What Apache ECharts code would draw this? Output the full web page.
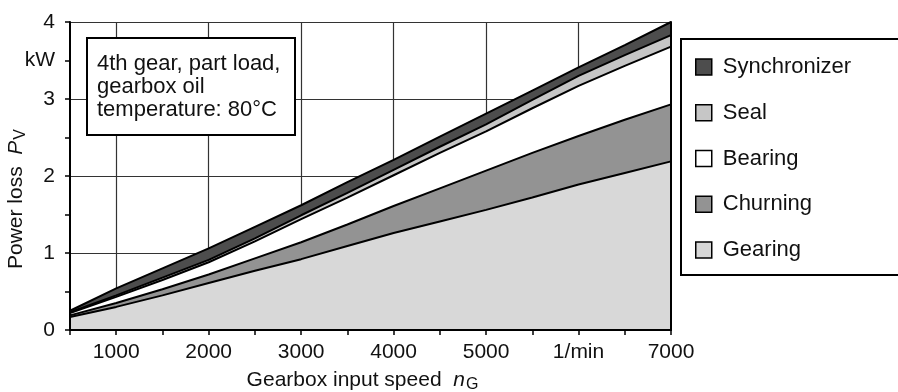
<!DOCTYPE html>
<html>
<head>
<meta charset="utf-8">
<script src="https://cdn.jsdelivr.net/npm/echarts@6/dist/echarts.min.js"></script>
<style>
  html, body { margin: 0; padding: 0; background: #fff; }
  #main { width: 898px; height: 392px; }
</style>
</head>
<body>
<div id="main"></div>
<script>
// gearbox input speed, 1/min
const speeds = [500, 1000, 1500, 2000, 2500, 3000, 3500, 4000, 4500, 5000, 5500, 6000, 6500, 7000]
// power loss parts in kW (stacked from bottom)
const gearing = [0.17, 0.30, 0.45, 0.61, 0.77, 0.92, 1.09, 1.26, 1.41, 1.56, 1.72, 1.89, 2.04, 2.19]
const churning = [0.02, 0.05, 0.08, 0.11, 0.16, 0.22, 0.28, 0.35, 0.43, 0.51, 0.58, 0.63, 0.69, 0.74]
const bearing = [0.03, 0.08, 0.12, 0.16, 0.22, 0.30, 0.35, 0.40, 0.46, 0.51, 0.58, 0.65, 0.70, 0.75]
const seal = [0.01, 0.02, 0.03, 0.03, 0.04, 0.05, 0.06, 0.07, 0.08, 0.09, 0.11, 0.13, 0.14, 0.15]
const synchronizer = [0.02, 0.09, 0.12, 0.15, 0.15, 0.13, 0.14, 0.13, 0.13, 0.14, 0.12, 0.11, 0.13, 0.17]

// tick labels
const xLabelValues = [1000, 2000, 3000, 4000, 5000, 6000, 7000]
const xLabelTexts = ['1000', '2000', '3000', '4000', '5000', '1/min', '7000']
const yLabelValues = [0, 1, 2, 3, 3.5, 4]
const yLabelTexts = ['0', '1', '2', '3', 'kW', '4']

const seriesNames = ['Gearing', 'Churning', 'Bearing', 'Seal', 'Synchronizer']
const seriesValues = [gearing, churning, bearing, seal, synchronizer]
const fills = ['#d8d8d8', '#939393', '#ffffff', '#c6c6c6', '#4d4d4d']

const FONT = 'Liberation Sans, Arial, sans-serif'

function pickLabel(values, texts, v) {
  v = Number(v)
  for (let i = 0; i < values.length; i++) {
    if (Math.abs(values[i] - v) < 1e-6) return texts[i]
  }
  return ''
}

const chart = echarts.init(document.getElementById('main'), null, { renderer: 'canvas' })

const series = seriesNames.map(function (name, k) {
  return {
    name: name,
    type: 'line',
    stack: 'total',
    xAxisIndex: 0,
    yAxisIndex: 0,
    symbol: 'none',
    itemStyle: { color: fills[k] },
    lineStyle: { color: '#000', width: 2 },
    areaStyle: { color: fills[k], opacity: 1 },
    data: seriesValues[k]
  }
})

const hidden = { show: false }
const xCats = speeds.map(String)

const option = {
  backgroundColor: '#fff',
  animation: false,
  textStyle: { fontFamily: FONT },
  grid: { left: 70, top: 22, width: 601, height: 308, containLabel: false, outerBoundsMode: 'none' },
  xAxis: [
    {
      // main bottom axis
      type: 'category', data: xCats, boundaryGap: false, z: 10,
      axisLine: { lineStyle: { color: '#000', width: 2 } },
      axisTick: { interval: 0, length: 5, lineStyle: { color: '#000', width: 1.5 } },
      axisLabel: {
        interval: 0,
        color: '#111', fontSize: 21, fontFamily: FONT, margin: 12,
        formatter: function (v) { return pickLabel(xLabelValues, xLabelTexts, v) }
      },
      splitLine: hidden,
      name: 'Gearbox input speed  {i|n}{s|G}',
      nameLocation: 'middle',
      nameGap: 38,
      nameMoveOverlap: false,
      nameTextStyle: {
        color: '#111', fontSize: 21, fontFamily: FONT, padding: [0, 16, 0, 0],
        rich: {
          i: { fontStyle: 'italic', fontSize: 21, fontFamily: FONT, color: '#111' },
          s: { fontSize: 16, fontFamily: FONT, color: '#111', padding: [9, 0, 0, 1] }
        }
      }
    },
    {
      // grid lines every 1000
      type: 'category', data: xCats, boundaryGap: false, z: 0,
      axisLine: hidden, axisTick: hidden, axisLabel: hidden,
      splitLine: {
        show: true,
        interval: function (idx, v) { return Number(v) % 1000 === 0 && Number(v) < 7000 },
        lineStyle: { color: '#333', width: 1.2 }
      }
    },
    {
      // top frame line
      type: 'category', data: xCats, boundaryGap: false, position: 'top', z: 10,
      axisLine: { lineStyle: { color: '#000', width: 2 } },
      axisTick: hidden, axisLabel: hidden, splitLine: hidden
    }
  ],
  yAxis: [
    {
      type: 'value', min: 0, max: 4, interval: 0.5, z: 10,
      axisLine: { show: true, lineStyle: { color: '#000', width: 2 } },
      axisTick: { show: true, length: 5, lineStyle: { color: '#000', width: 1.5 } },
      axisLabel: {
        color: '#111', fontSize: 21, fontFamily: FONT, margin: 15,
        formatter: function (v) { return pickLabel(yLabelValues, yLabelTexts, v) }
      },
      splitLine: hidden,
      name: 'Power loss  {i|P}{s|V}',
      nameLocation: 'middle',
      nameGap: 41,
      nameMoveOverlap: false,
      nameTextStyle: {
        color: '#111', fontSize: 21, fontFamily: FONT, padding: [0, 46, 0, 0],
        rich: {
          i: { fontStyle: 'italic', fontSize: 21, fontFamily: FONT, color: '#111' },
          s: { fontSize: 16, fontFamily: FONT, color: '#111', padding: [9, 0, 0, 1] }
        }
      }
    },
    {
      // grid lines every 1 kW
      type: 'value', min: 0, max: 4, interval: 1, z: 0,
      axisLine: hidden, axisTick: hidden, axisLabel: hidden,
      splitLine: { show: true, lineStyle: { color: '#333', width: 1.2 } }
    },
    {
      // right frame line
      type: 'value', min: 0, max: 4, position: 'right', z: 10,
      axisLine: { show: true, lineStyle: { color: '#000', width: 2 } },
      axisTick: hidden, axisLabel: hidden, splitLine: hidden
    }
  ],
  legend: {
    orient: 'vertical',
    left: 681,
    top: 39,
    data: ['Synchronizer', 'Seal', 'Bearing', 'Churning', 'Gearing'],
    icon: 'rect',
    itemWidth: 16,
    itemHeight: 16,
    itemGap: 23.75,
    padding: [17, 120, 14, 14],
    backgroundColor: '#fff',
    borderColor: '#000',
    borderWidth: 2,
    borderRadius: 0,
    itemStyle: { borderColor: '#000', borderWidth: 1.5 },
    textStyle: { color: '#111', fontSize: 22, fontFamily: FONT, padding: [0, 0, 0, 6] },
    selectedMode: false
  },
  graphic: [
    {
      type: 'rect',
      z: 100,
      shape: { x: 87, y: 38, width: 208, height: 97 },
      style: { fill: '#fff', stroke: '#000', lineWidth: 2 }
    },
    {
      type: 'text',
      z: 101,
      left: 97,
      top: 52,
      style: {
        text: '4th gear, part load,\ngearbox oil\ntemperature: 80°C',
        font: '22px ' + FONT,
        fill: '#111',
        lineHeight: 23
      }
    }
  ],
  series: series
}

chart.setOption(option)
</script>
</body>
</html>
